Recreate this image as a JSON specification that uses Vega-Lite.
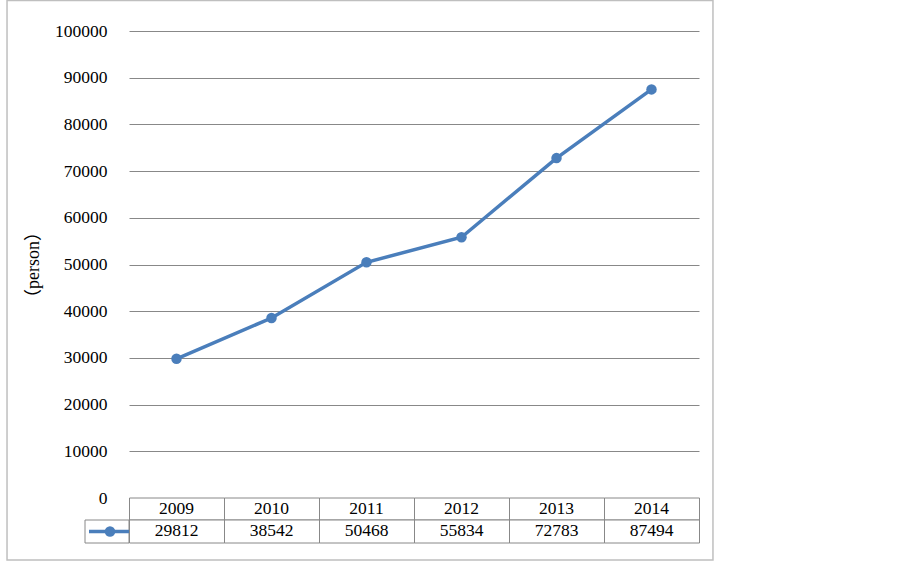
{
  "$schema": "https://vega.github.io/schema/vega-lite/v6.json",
  "autosize": {"type": "none"},
  "width": 570,
  "height": 467,
  "padding": {"left": 129, "top": 31, "right": 203, "bottom": 64},
  "background": "white",
  "config": {
    "view": {"stroke": null},
    "font": "Liberation Serif",
    "text": {"font": "Liberation Serif", "fontSize": 17.5, "color": "black"}
  },
  "data": {
    "values": [
      {"year": 2009, "persons": 29812},
      {"year": 2010, "persons": 38542},
      {"year": 2011, "persons": 50468},
      {"year": 2012, "persons": 55834},
      {"year": 2013, "persons": 72783},
      {"year": 2014, "persons": 87494}
    ]
  },
  "encoding": {
    "x": {"field": "year", "type": "quantitative", "scale": {"domain": [2008.5, 2014.5], "nice": false, "zero": false}, "axis": null},
    "y": {"field": "persons", "type": "quantitative", "scale": {"domain": [0, 100000], "nice": false},
      "axis": {"values": [0,10000,20000,30000,40000,50000,60000,70000,80000,90000,100000], "format": "d", "domain": false, "ticks": false, "grid": true, "gridColor": "#888888", "gridWidth": 1, "gridOpacity": 1, "labelPadding": 22, "labelFont": "Liberation Serif", "labelFontSize": 17.5, "labelColor": "black", "title": "（person）", "titleFont": "Liberation Serif, Noto Sans CJK JP", "titleFontSize": 18, "titleFontWeight": "normal", "titleColor": "black", "titlePadding": 12}}
  },
  "layer": [
    {
      "transform": [{"filter": "datum.year == 2009"}],
      "mark": {"type": "rect", "fill": null, "stroke": "#bfbfbf", "strokeWidth": 1.5},
      "encoding": {
        "x": {"datum": 2007.216, "type": "quantitative"},
        "x2": {"datum": 2014.647},
        "y": {"datum": 106531, "type": "quantitative"},
        "y2": {"datum": -13276}
      }
    },
    {
      "mark": {"type": "line", "color": "#4A7EBB", "strokeWidth": 3.5}
    },
    {
      "mark": {"type": "point", "filled": true, "opacity": 1, "color": "#4A7EBB", "size": 110}
    },
    {
      "mark": {"type": "rect", "fill": "white", "stroke": "#888888", "strokeWidth": 1},
      "encoding": {
        "x": {"field": "year", "type": "quantitative", "bin": {"step": 1, "extent": [2008.5, 2014.5], "anchor": 2008.5, "nice": false}},
        "y": {"datum": 0, "type": "quantitative"},
        "y2": {"datum": -4711}
      }
    },
    {
      "mark": {"type": "rect", "fill": "white", "stroke": "#888888", "strokeWidth": 1},
      "encoding": {
        "x": {"field": "year", "type": "quantitative", "bin": {"step": 1, "extent": [2008.5, 2014.5], "anchor": 2008.5, "nice": false}},
        "y": {"datum": -4711, "type": "quantitative"},
        "y2": {"datum": -9636}
      }
    },
    {
      "mark": {"type": "text", "baseline": "middle", "align": "center"},
      "encoding": {
        "y": {"datum": -2355, "type": "quantitative"},
        "text": {"field": "year", "type": "nominal"}
      }
    },
    {
      "mark": {"type": "text", "baseline": "middle", "align": "center"},
      "encoding": {
        "y": {"datum": -7173, "type": "quantitative"},
        "text": {"field": "persons", "type": "quantitative", "format": "d"}
      }
    },
    {
      "transform": [{"filter": "datum.year == 2009"}],
      "mark": {"type": "rect", "fill": "white", "stroke": "#888888", "strokeWidth": 1},
      "encoding": {
        "x": {"datum": 2008.037, "type": "quantitative"},
        "x2": {"datum": 2008.5},
        "y": {"datum": -4711, "type": "quantitative"},
        "y2": {"datum": -9636}
      }
    },
    {
      "transform": [{"filter": "datum.year == 2009"}],
      "mark": {"type": "rule", "color": "#4A7EBB", "strokeWidth": 3.5},
      "encoding": {
        "x": {"datum": 2008.079, "type": "quantitative"},
        "x2": {"datum": 2008.5},
        "y": {"datum": -7173, "type": "quantitative"}
      }
    },
    {
      "transform": [{"filter": "datum.year == 2009"}],
      "mark": {"type": "point", "filled": true, "opacity": 1, "color": "#4A7EBB", "size": 110},
      "encoding": {
        "x": {"datum": 2008.3, "type": "quantitative"},
        "y": {"datum": -7173, "type": "quantitative"}
      }
    }
  ]
}
